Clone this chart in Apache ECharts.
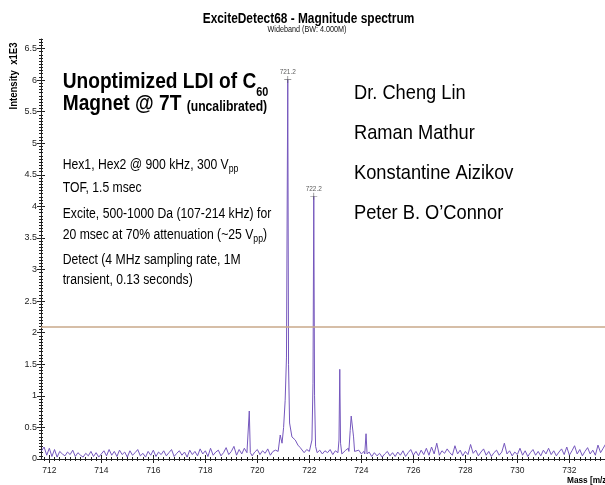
<!DOCTYPE html>
<html><head><meta charset="utf-8">
<script src="https://cdn.jsdelivr.net/npm/echarts@6/dist/echarts.min.js"></script>
<style>html,body{margin:0;padding:0;background:#fff}#c{width:605px;height:485px}</style>
</head><body><div id="c"></div>
<script>
// ---- data (intensity in units of 1E3) ----
const massStart = 711.7;
const massStep = 0.1;
const baseline = [
  0.13,0.19,0.06,0.17,0.04,0.15,0.03,0.12,0.08,0.05,
  0.11,0.07,0.14,0.04,0.10,0.06,0.03,0.09,0.05,0.12,
  0.04,0.10,0.03,0.08,0.13,0.05,0.15,0.06,0.12,0.04,
  0.14,0.07,0.11,0.03,0.13,0.06,0.10,0.15,0.05,0.09,
  0.03,0.12,0.06,0.14,0.04,0.11,0.07,0.13,0.05,0.10,
  0.15,0.04,0.09,0.13,0.06,0.11,0.03,0.14,0.07,0.12,
  0.05,0.16,0.08,0.13,0.04,0.17,0.06,0.11,0.14,0.05,
  0.10,0.18,0.07,0.12,0.20,0.06,0.15,0.08,0.17,0.10,
  0.13,0.05,0.11,0.15,0.07,0.13,0.09,0.16,0.06,0.12,
  0.14,0.17,0.20,0.25,0.30,0.35,0.30,0.25,0.20,0.17,
  0.17,0.10,0.15,0.12,0.09,0.16,0.11,0.14,0.08,0.13,
  0.10,0.15,0.07,0.13,0.09,0.16,0.10,0.14,0.17,0.12,
  0.15,0.09,0.14,0.08,0.12,0.06,0.11,0.04,0.10,0.05,
  0.09,0.03,0.08,0.12,0.05,0.10,0.04,0.11,0.06,0.13,
  0.04,0.10,0.15,0.06,0.12,0.05,0.14,0.07,0.17,0.06,
  0.19,0.08,0.25,0.06,0.13,0.09,0.16,0.10,0.06,0.21,
  0.08,0.14,0.05,0.12,0.07,0.23,0.09,0.14,0.05,0.11,
  0.16,0.06,0.12,0.04,0.10,0.14,0.06,0.11,0.25,0.08,
  0.13,0.05,0.11,0.07,0.17,0.06,0.13,0.04,0.10,0.15,
  0.06,0.12,0.05,0.14,0.08,0.17,0.07,0.13,0.05,0.11,
  0.16,0.07,0.19,0.06,0.13,0.21,0.08,0.15,0.05,0.12,
  0.18,0.08,0.14,0.06,0.22,0.10,0.17,0.24
];
const peak7197 = [[719.65,0.10],[719.69,0.76],[719.73,0.10]];
const peak7212 = [[720.80,0.12],[720.88,0.38],[720.95,0.25],[721.01,0.50],[721.07,0.93],[721.12,1.60],[721.17,6.01],[721.20,1.50],[721.24,0.57],[721.33,0.35],[721.46,0.30],[721.56,0.22],[721.65,0.18]];
const peak7222 = [[722.05,0.15],[722.10,0.30],[722.14,1.20],[722.17,4.16],[722.20,1.00],[722.24,0.20],[722.30,0.10]];
const peak7232 = [[723.10,0.10],[723.14,0.30],[723.17,1.42],[723.20,0.25],[723.25,0.08]];
const peak7236 = [[723.52,0.12],[723.57,0.45],[723.61,0.68],[723.66,0.66],[723.70,0.35],[723.74,0.12]];
const peak7242 = [[724.13,0.08],[724.18,0.40],[724.22,0.08]];
const peakClusters = [peak7197, peak7212, peak7222, peak7232, peak7236, peak7242];
const peakMarks = [[721.17, 6.01], [722.17, 4.16]];
const peakLabels = ['721.2', '722.2'];
const thresholdLevel = 2.09;
const xTickValues = [712, 714, 716, 718, 720, 722, 724, 726, 728, 730, 732];
const yTickValues = [0, 0.5, 1, 1.5, 2, 2.5, 3, 3.5, 4, 4.5, 5, 5.5, 6, 6.5];

// ---- texts ----
const titleText = 'ExciteDetect68 - Magnitude spectrum';
const subtitleText = 'Wideband (BW: 4.000M)';
const yNameText = 'Intensity  x1E3';
const xNameText = 'Mass [m/z]';
const names = ['Dr. Cheng Lin', 'Raman Mathur', 'Konstantine Aizikov', 'Peter B. O\u2019Connor'];

const X_MIN = 711.68, X_MAX = 733.37, Y_MIN = 0, Y_MAX = 6.65;

// build spectrum line
const pts = [];
baseline.forEach((v, i) => {
  const m = +(massStart + i * massStep).toFixed(3);
  const inPeak = peakClusters.some(c => m >= c[0][0] - 1e-6 && m <= c[c.length - 1][0] + 1e-6);
  if (!inPeak) pts.push([m, v]);
});
peakClusters.forEach(c => c.forEach(p => pts.push(p)));
pts.sort((a, b) => a[0] - b[0]);

// minor tick positions
const xMinor = [];
for (let k = Math.ceil(X_MIN / 0.2); k * 0.2 <= X_MAX + 1e-9; k++) xMinor.push(+(k * 0.2).toFixed(2));
const yMinor = [];
for (let k = 0; k * 0.05 <= Y_MAX + 1e-9; k++) yMinor.push(+(k * 0.05).toFixed(2));

const AX = '#222';
const FN = '"Liberation Sans Narrow","Liberation Sans",Arial,sans-serif';
function xAx(opts) {
  return Object.assign({
    type: 'value', min: X_MIN, max: X_MAX, position: 'bottom',
    axisLine: { show: false, onZero: false, lineStyle: { color: AX } },
    splitLine: { show: false }, axisLabel: { show: false }
  }, opts);
}
function yAx(opts) {
  return Object.assign({
    type: 'value', min: Y_MIN, max: Y_MAX, position: 'left',
    axisLine: { show: false, onZero: false, lineStyle: { color: AX } },
    splitLine: { show: false }, axisLabel: { show: false }
  }, opts);
}

// ---- text layout helpers ----
const mctx = document.createElement('canvas').getContext('2d');
const SX = 0.87;
function fontStr(size, weight) { return `${weight} ${size}px "Liberation Sans"`; }
function measure(t, size, weight) { mctx.font = fontStr(size, weight); return mctx.measureText(t).width; }
const graphics = [];
function runLine(x, base, runs) {
  let cx = x;
  runs.forEach(r => {
    const size = r[1], weight = r[2] || 'normal', dy = r[3] || 0;
    graphics.push({
      type: 'text', x: cx, y: base + dy - 0.35 * size, scaleX: SX, silent: true,
      style: { text: r[0], fontSize: size, fontWeight: weight, fontFamily: 'Liberation Sans',
        fill: '#000', align: 'left', verticalAlign: 'middle' }
    });
    cx += measure(r[0], size, weight) * SX;
  });
}

// title + subtitle
graphics.push({ type: 'text', x: 308.5, y: 24 - 0.35 * 14, scaleX: 0.85, silent: true,
  style: { text: titleText, fontSize: 14, fontWeight: 'bold', fontFamily: 'Liberation Sans', fill: '#000', align: 'center', verticalAlign: 'middle' } });
graphics.push({ type: 'text', x: 307, y: 29.5, scaleX: 0.87, silent: true,
  style: { text: subtitleText, fontSize: 8.3, fontFamily: 'Liberation Sans', fill: '#111', align: 'center', verticalAlign: 'middle' } });
// y axis name
graphics.push({ type: 'text', x: 14, y: 76, rotation: Math.PI / 2, scaleX: 0.87, silent: true,
  style: { text: yNameText, fontSize: 11, fontWeight: 'bold', fontFamily: 'Liberation Sans', fill: '#000', align: 'center', verticalAlign: 'middle' } });
// x axis name (cut by the right edge)
graphics.push({ type: 'text', x: 567, y: 480, scaleX: 0.87, silent: true,
  style: { text: xNameText, fontSize: 9.5, fontWeight: 'bold', fontFamily: 'Liberation Sans', fill: '#000', align: 'left', verticalAlign: 'middle' } });

// annotation block
runLine(62.7, 90, [['Unoptimized LDI of C', 22, 'bold'], ['60', 12.5, 'bold', 7]]);
runLine(62.7, 112, [['Magnet @ 7T ', 22, 'bold'], ['(uncalibrated)', 14, 'bold']]);
runLine(62.7, 170, [['Hex1, Hex2 @ 900 kHz, 300 V', 14], ['pp', 10, 'normal', 3]]);
runLine(62.7, 193, [['TOF, 1.5 msec', 14]]);
runLine(62.7, 219, [['Excite, 500-1000 Da (107-214 kHz) for', 14]]);
runLine(62.7, 240, [['20 msec at 70% attenuation (~25 V', 14], ['pp', 10, 'normal', 3], [')', 14]]);
runLine(62.7, 265, [['Detect (4 MHz sampling rate, 1M', 14]]);
runLine(62.7, 285, [['transient, 0.13 seconds)', 14]]);
const nameBase = [101, 141, 181, 221];
names.forEach((n, i) => runLine(354, nameBase[i], [[n, 21]]));

const chart = echarts.init(document.getElementById('c'), null, { renderer: 'canvas' });
chart.setOption({
  animation: false,
  backgroundColor: '#fff',
  grid: { left: 41, right: 0, top: 39, bottom: 26 },
  xAxis: [
    xAx({ axisLine: { show: true, onZero: false, lineStyle: { color: AX, width: 1 } },
      axisTick: { show: true, customValues: xTickValues, inside: false, length: 4, lineStyle: { color: AX } },
      axisLabel: { show: true, customValues: xTickValues, margin: 7, fontSize: 8.5, fontFamily: FN, color: '#222' } }),
    xAx({ axisTick: { show: true, customValues: xTickValues, inside: true, length: 4, lineStyle: { color: AX } } }),
    xAx({ axisTick: { show: true, customValues: xMinor, inside: false, length: 2, lineStyle: { color: AX } } }),
    xAx({ axisTick: { show: true, customValues: xMinor, inside: true, length: 2, lineStyle: { color: AX } } })
  ],
  yAxis: [
    yAx({ axisLine: { show: true, onZero: false, lineStyle: { color: AX, width: 1 } },
      axisTick: { show: true, customValues: yTickValues, inside: false, length: 4, lineStyle: { color: AX } },
      axisLabel: { show: true, customValues: yTickValues, margin: 4, fontSize: 9, fontFamily: FN, color: '#222' } }),
    yAx({ axisTick: { show: true, customValues: yTickValues, inside: true, length: 4, lineStyle: { color: AX } } }),
    yAx({ axisTick: { show: true, customValues: yMinor, inside: false, length: 2, lineStyle: { color: AX } } }),
    yAx({ axisTick: { show: true, customValues: yMinor, inside: true, length: 2, lineStyle: { color: AX } } })
  ],
  series: [
    {
      type: 'line', xAxisIndex: 0, yAxisIndex: 0, data: pts, showSymbol: false, smooth: false,
      lineStyle: { color: '#7557bd', width: 1 }, z: 3,
      markLine: {
        silent: true, symbol: 'none', label: { show: false },
        lineStyle: { color: '#c8a98a', width: 1.5, type: 'solid' },
        data: [{ yAxis: thresholdLevel }]
      }
    },
    {
      type: 'scatter', xAxisIndex: 0, yAxisIndex: 0, z: 4,
      data: peakMarks,
      symbol: 'path://M0,4.5L10,4.5L10,5.5L0,5.5ZM4.5,0L5.5,0L5.5,10L4.5,10Z',
      symbolSize: 7, itemStyle: { color: '#555' },
      label: { show: true, position: 'top', distance: 0, fontSize: 6.5, fontFamily: FN, color: '#333',
        formatter: p => peakLabels[p.dataIndex] }
    }
  ],
  graphic: graphics
});
</script></body></html>
